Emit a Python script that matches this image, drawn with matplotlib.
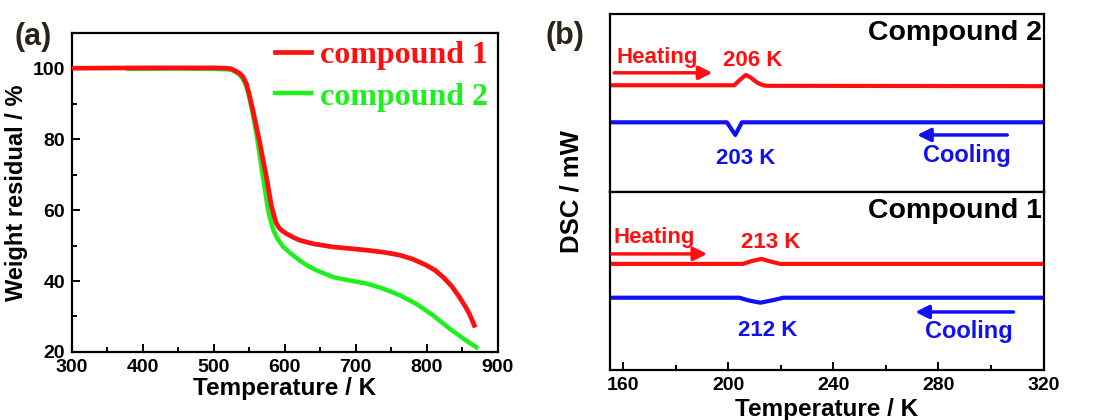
import matplotlib
matplotlib.use("Agg")
import matplotlib.pyplot as plt

plt.rcParams['font.family'] = ['Liberation Sans', 'DejaVu Sans']
plt.rcParams['font.weight'] = 'bold'

RED = '#ff1010'
GREEN = '#1ef01e'
BLUE = '#1010f0'

# TGA data (a)
t_c1 = [300, 400, 500, 518, 525, 530, 536, 541, 546, 550, 555, 560, 565, 570, 574, 578, 581, 585,
        588, 592, 596, 602, 612, 621, 640, 668, 690, 715, 740, 762, 780, 799, 812, 823, 835, 846,
        855, 860, 867]
w_c1 = [100, 100.1, 100.1, 100, 99.8, 99.3, 98.6, 97.6, 95.6, 92.5, 88.2, 83.5, 78.8, 73.5, 69.4,
        64.8, 61.3, 58.2, 56.3, 55.0, 54.2, 53.4, 52.3, 51.5, 50.5, 49.6, 49.2, 48.7, 48.1, 47.3,
        46.2, 44.5, 43.0, 41.1, 38.6, 35.5, 32.6, 30.8, 27.5]
t_c2 = [380, 450, 500, 518, 525, 530, 536, 541, 546, 550, 555, 560, 565, 569, 573, 576, 580, 584,
        590, 598, 610, 621, 633, 645, 668, 690, 715, 738, 762, 785, 809, 832, 855, 870]
w_c2 = [99.8, 99.9, 99.8, 99.7, 99.5, 99.0, 98.2, 97.0, 94.8, 91.8, 87.0, 81.5, 75.0, 69.5, 64.5,
        60.5, 57.0, 54.3, 51.8, 49.6, 47.5, 45.8, 44.2, 43.0, 41.1, 40.2, 39.3, 37.9, 36.0, 33.6,
        30.3, 26.6, 23.3, 21.3]

# DSC data (b), arbitrary units, each panel 0..1
t_h2 = [155, 202.3, 204.5, 206.7, 208.5, 211, 213.5, 215, 320]
d_h2 = [0.599, 0.599, 0.63, 0.657, 0.643, 0.614, 0.598, 0.596, 0.594]
t_c2d = [155, 199.5, 202.7, 205.2, 320]
d_c2d = [0.391, 0.391, 0.32, 0.391, 0.391]
t_h1 = [155, 205.7, 209, 212.6, 216, 219.8, 320]
d_h1 = [0.596, 0.596, 0.612, 0.624, 0.61, 0.596, 0.596]
t_c1d = [155, 204.2, 208, 212.2, 217, 221, 320]
d_c1d = [0.406, 0.406, 0.39, 0.378, 0.392, 0.406, 0.406]

fig = plt.figure(figsize=(11.06, 4.2), dpi=100)

# ---- panel (a)
ax = fig.add_axes([0.065, 0.162, 0.385, 0.760])
ax.plot(t_c2, w_c2, color=GREEN, lw=3.2, label='compound 2', zorder=2)
ax.plot(t_c1, w_c1, color=RED, lw=3.4, label='compound 1', zorder=3)
ax.set_xlim(300, 900)
ax.set_ylim(20, 110)
ax.set_xticks([300, 400, 500, 600, 700, 800, 900])
ax.set_xticks(range(350, 900, 100), minor=True)
ax.set_yticks([20, 40, 60, 80, 100])
ax.set_yticks([30, 50, 70, 90], minor=True)
ax.set_xlabel('Temperature / K', fontsize=17.5, fontweight='bold', labelpad=1)
ax.set_ylabel('Weight residual / %', fontsize=17, fontweight='bold', labelpad=3)
h, l = ax.get_legend_handles_labels()
ax.legend(h[::-1], l[::-1], loc='upper right', bbox_to_anchor=(1.045, 1.065), frameon=False,
          prop={'family': 'Liberation Serif', 'weight': 'bold', 'size': 23},
          labelcolor='linecolor', handlelength=1.1, handletextpad=0.3, labelspacing=0.38)
fig.text(15 / 1106, 1 - 45 / 420, '(a)', fontsize=22, fontweight='bold', color='#2b2418')

# ---- panel (b)
ax_t = fig.add_axes([0.5515, 0.543, 0.392, 0.424])
ax_b = fig.add_axes([0.5515, 0.119, 0.392, 0.424], sharex=ax_t)

ax_t.plot(t_h2, d_h2, color=RED, lw=3)
ax_t.plot(t_c2d, d_c2d, color=BLUE, lw=3)
ax_b.plot(t_h1, d_h1, color=RED, lw=3)
ax_b.plot(t_c1d, d_c1d, color=BLUE, lw=3)

for a in (ax_t, ax_b):
    a.set_ylim(0, 1)
    a.set_yticks([])
ax_b.set_xlim(155, 320)
ax_b.set_xticks([160, 200, 240, 280, 320])
ax_b.set_xticks([180, 220, 260, 300], minor=True)
ax_t.tick_params(axis='x', which='both', bottom=False, labelbottom=False)
ax_b.set_xlabel('Temperature / K', fontsize=17.5, fontweight='bold', labelpad=3)
fig.text(0.517, 0.543, 'DSC / mW', rotation=90, fontsize=18.5, fontweight='bold',
         ha='center', va='center')
fig.text(0.493, 0.895, '(b)', fontsize=22, fontweight='bold', color='#2b2418')

# annotations, compound 2
ax_t.text(319.5, 0.854, 'Compound 2', ha='right', va='baseline', fontsize=20.5, fontweight='bold')
ax_t.text(157.3, 0.726, 'Heating', color=RED, fontsize=16, fontweight='bold', va='baseline')
ax_t.annotate('', xy=(194, 0.669), xytext=(156.6, 0.669),
              arrowprops=dict(arrowstyle='-|>', color=RED, lw=2.5, mutation_scale=20,
                              shrinkA=0, shrinkB=0))
ax_t.text(209.5, 0.71, '206 K', color=RED, fontsize=16, fontweight='bold', ha='center', va='baseline')
ax_t.text(206.5, 0.157, '203 K', color=BLUE, fontsize=16, fontweight='bold', ha='center', va='baseline')
ax_t.annotate('', xy=(271.9, 0.32), xytext=(306.2, 0.32),
              arrowprops=dict(arrowstyle='-|>', color=BLUE, lw=2.5, mutation_scale=20,
                              shrinkA=0, shrinkB=0))
ax_t.text(274.3, 0.169, 'Cooling', color=BLUE, fontsize=17, fontweight='bold', va='baseline')

# annotations, compound 1
ax_b.text(319.5, 0.854, 'Compound 1', ha='right', va='baseline', fontsize=20.5, fontweight='bold')
ax_b.text(156.2, 0.713, 'Heating', color=RED, fontsize=16, fontweight='bold', va='baseline')
ax_b.annotate('', xy=(192, 0.652), xytext=(155.7, 0.652),
              arrowprops=dict(arrowstyle='-|>', color=RED, lw=2.5, mutation_scale=20,
                              shrinkA=0, shrinkB=0))
ax_b.text(216, 0.685, '213 K', color=RED, fontsize=16, fontweight='bold', ha='center', va='baseline')
ax_b.text(215.2, 0.191, '212 K', color=BLUE, fontsize=16, fontweight='bold', ha='center', va='baseline')
ax_b.annotate('', xy=(271.2, 0.326), xytext=(308.6, 0.326),
              arrowprops=dict(arrowstyle='-|>', color=BLUE, lw=2.5, mutation_scale=20,
                              shrinkA=0, shrinkB=0))
ax_b.text(275, 0.18, 'Cooling', color=BLUE, fontsize=17, fontweight='bold', va='baseline')

for a in (ax, ax_t, ax_b):
    for s in a.spines.values():
        s.set_linewidth(1.6)
    a.tick_params(which='both', direction='in', width=1.4, labelsize=14, pad=5)
    a.tick_params(which='major', length=6)
    a.tick_params(which='minor', length=3.5)
    for lab in a.get_xticklabels() + a.get_yticklabels():
        lab.set_fontweight('bold')

fig.savefig('out.png', dpi=100)
